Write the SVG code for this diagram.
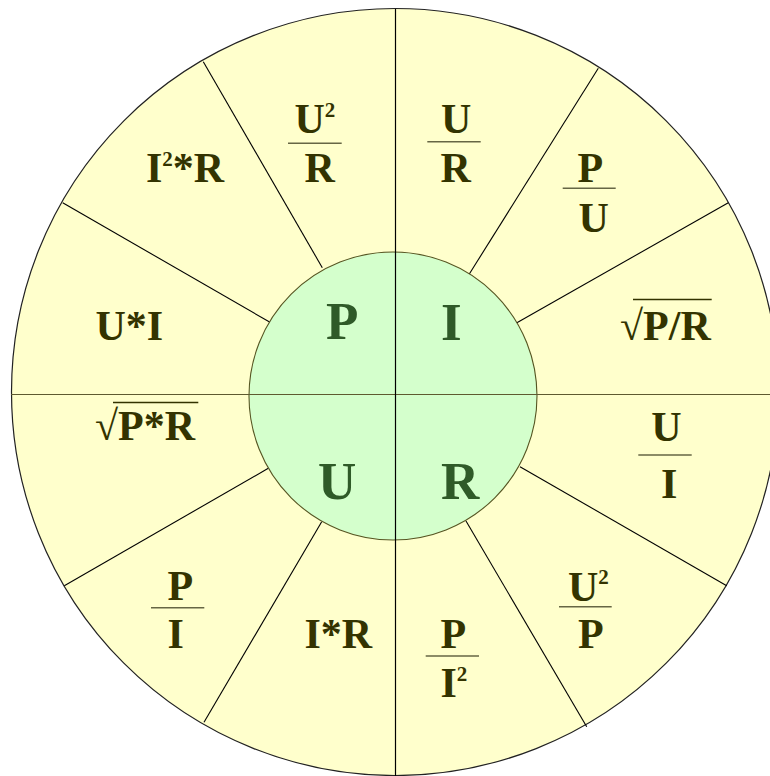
<svg xmlns="http://www.w3.org/2000/svg" width="770" height="776" viewBox="0 0 770 776">
<style>
.f{font-family:"Liberation Serif","Times New Roman",serif;font-weight:bold;font-size:42px;fill:#333300}
.s{font-size:21px}
.big{font-family:"Liberation Serif","Times New Roman",serif;font-weight:bold;font-size:53px;fill:#2f5a28}
.fl{stroke:#666644;stroke-width:1.4}
.rad{stroke:#000;stroke-width:1.1}
</style>
<rect width="770" height="776" fill="#fff"/>
<circle id="outer" cx="395" cy="392" r="383.5" fill="#FFFFCC" stroke="#222" stroke-width="1.2"/>
<g id="connectors">
<line class="rad" x1="322.3" y1="267.7" x2="203.3" y2="61.7"/>
<line class="rad" x1="270" y1="322.3" x2="62.7" y2="202.7"/>
<line class="rad" x1="469.3" y1="274" x2="598.3" y2="68.3"/>
<line class="rad" x1="516" y1="323.3" x2="728.3" y2="202.7"/>
<line class="rad" x1="268.3" y1="468.3" x2="64.3" y2="585.7"/>
<line class="rad" x1="321.7" y1="521.7" x2="204" y2="722.3"/>
<line class="rad" x1="520" y1="466.7" x2="726.7" y2="585.7"/>
<line class="rad" x1="466" y1="521" x2="586.7" y2="726.7"/>
</g>
<circle id="inner" cx="393" cy="396" r="144" fill="#D4FFCC" stroke="#555522" stroke-width="1.1"/>
<g id="axes">
<line x1="11" y1="394.5" x2="770" y2="394.5" stroke="#5e5a30" stroke-width="1.2"/>
<line x1="395.5" y1="9" x2="395.5" y2="776" stroke="#000" stroke-width="1.2"/>
</g>
<g id="center-P"><text class="big" x="326" y="339.3">P</text></g>
<g id="center-I"><text class="big" x="441" y="340">I</text></g>
<g id="center-U"><text class="big" x="318" y="499">U</text></g>
<g id="center-R"><text class="big" x="441" y="499">R</text></g>

<g id="p-u2-over-r">
<text class="f" x="294.5" y="133.3">U<tspan class="s" dy="-16.5">2</tspan></text>
<line class="fl" x1="288" y1="143.3" x2="341.7" y2="143.3"/>
<text class="f" x="304.5" y="181.7">R</text>
</g>
<g id="p-i2r"><text class="f" x="146" y="181.7">I<tspan class="s" dy="-15.5">2</tspan><tspan dy="15.5">*R</tspan></text></g>
<g id="p-ui"><text class="f" x="95.5" y="340">U*I</text></g>

<g id="i-u-over-r">
<text class="f" x="441" y="133.3">U</text>
<line class="fl" x1="427.3" y1="141.7" x2="480.7" y2="141.7"/>
<text class="f" x="440.5" y="181.7">R</text>
</g>
<g id="i-p-over-u">
<text class="f" x="577.5" y="181.7">P</text>
<line class="fl" x1="562.7" y1="188.3" x2="615.7" y2="188.3"/>
<text class="f" x="578.5" y="231.7">U</text>
</g>
<g id="i-sqrt">
<text class="f" x="620" y="340">√P/R</text>
<line x1="633" y1="299.5" x2="711.7" y2="299.5" stroke="#333300" stroke-width="1.4"/>
</g>

<g id="u-sqrt">
<text class="f" x="95" y="440">√P*R</text>
<line x1="113" y1="402.5" x2="198.3" y2="402.5" stroke="#333300" stroke-width="1.4"/>
</g>
<g id="u-p-over-i">
<text class="f" x="167.5" y="600">P</text>
<line class="fl" x1="151" y1="607.7" x2="204.3" y2="607.7"/>
<text class="f" x="167.5" y="648.3">I</text>
</g>
<g id="u-ir"><text class="f" x="304.5" y="648.3">I*R</text></g>

<g id="r-u-over-i">
<text class="f" x="651.2" y="441">U</text>
<line class="fl" x1="638.3" y1="455" x2="691.7" y2="455"/>
<text class="f" x="661" y="498.3">I</text>
</g>
<g id="r-u2-over-p">
<text class="f" x="568" y="600.7">U<tspan class="s" dy="-16.5">2</tspan></text>
<line class="fl" x1="559" y1="606.7" x2="611.7" y2="606.7"/>
<text class="f" x="578" y="648.3">P</text>
</g>
<g id="r-p-over-i2">
<text class="f" x="440.5" y="648.3">P</text>
<line class="fl" x1="425.7" y1="656" x2="479" y2="656"/>
<text class="f" x="440.5" y="696.7">I<tspan class="s" dy="-15.5">2</tspan></text>
</g>
</svg>
